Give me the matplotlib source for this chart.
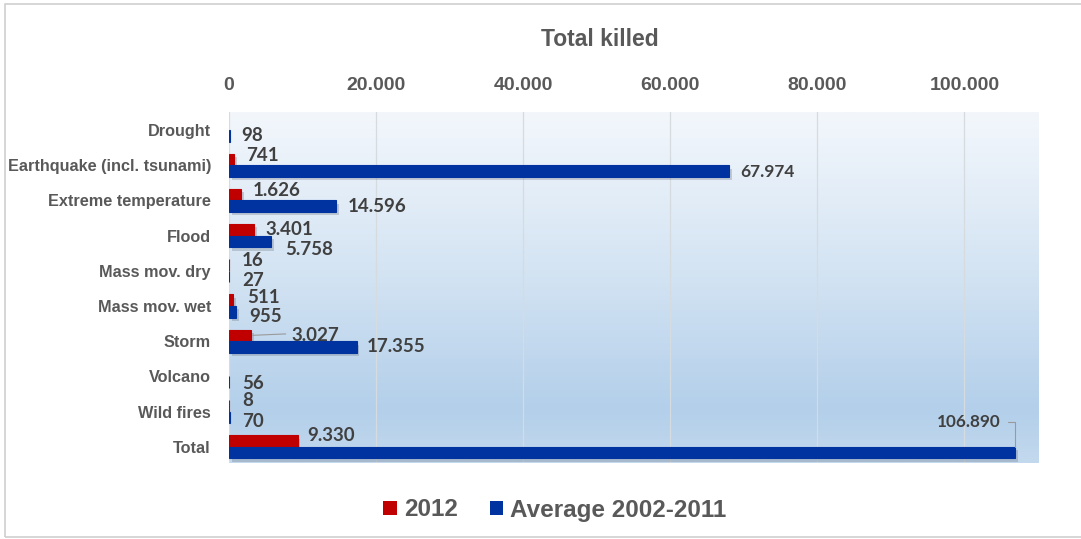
import numpy as np
import matplotlib
matplotlib.use("Agg")
import matplotlib.pyplot as plt
from matplotlib.colors import LinearSegmentedColormap
from matplotlib.patches import Patch, Rectangle
import matplotlib.patheffects as pe

# ---- data -------------------------------------------------------------
categories = ["Drought", "Earthquake (incl. tsunami)", "Extreme temperature",
              "Flood", "Mass mov. dry", "Mass mov. wet", "Storm",
              "Volcano", "Wild fires", "Total"]
killed_2012 = [0, 741, 1626, 3401, 16, 511, 3027, 0, 8, 9330]
killed_avg = [98, 67974, 14596, 5758, 27, 955, 17355, 56, 70, 106890]
series_names = ["2012", "Average 2002-2011"]
x_ticks = [0, 20000, 40000, 60000, 80000, 100000]

# label offsets from the bar end, in pixels (dx right, dy up)
offs_2012 = [(0, 0), (12, 4), (12, 4.5), (11, 0), (13, 4), (14, 3),
             (40, 0), (0, 0), (13, 5), (10, 5)]
offs_avg = [(12, 0), (11, -1), (11, 0), (14, -8.5), (13, -3.5), (13, -5),
            (10, 0), (13, -1), (13, -4), (-14, 25)]

RED = "#C00000"
BLUE = "#0033A0"
GREY_TXT = "#595959"
LBL_TXT = "#404040"


def fmt(v):
    return f"{v:,}".replace(",", ".")


W, H = 1081, 539
fig = plt.figure(figsize=(W / 100, H / 100), dpi=100)
fig.patch.set_facecolor("white")

# outer chart border
fig.add_artist(Rectangle((5 / W, 1 - 537 / H), (W + 10) / W, (537 - 4) / H,
                         transform=fig.transFigure, fill=False,
                         edgecolor="#d0d0d0", lw=1.2))

ax = fig.add_axes([229 / W, 1 - 463 / H, (1038 - 229) / W, (463 - 112) / H])

# gradient plot area
cmap = LinearSegmentedColormap.from_list(
    "bg", [(0.0, "#f3f7fc"), (0.45, "#d4e4f3"), (0.85, "#b3cfea"),
           (1.0, "#c3d9ee")])
grad = np.linspace(0, 1, 256).reshape(-1, 1)
ax.imshow(grad, cmap=cmap, extent=[0, 1, 0, 1], transform=ax.transAxes,
          aspect="auto", origin="upper", zorder=0)

y = np.arange(len(categories))
bh = 0.33
shadow = [pe.SimplePatchShadow(offset=(2, -2.5), shadow_rgbFace="#6a7380",
                               alpha=0.3), pe.Normal()]
bars_r = ax.barh(y - bh / 2, killed_2012, height=bh, color=RED, zorder=3,
                 edgecolor=RED, linewidth=0.8, path_effects=shadow)
bars_b = ax.barh(y + bh / 2, killed_avg, height=bh, color=BLUE, zorder=3,
                 edgecolor=BLUE, linewidth=0.8, path_effects=shadow)
# no visible mark for zero values
for b, v in zip(bars_r, killed_2012):
    if v == 0:
        b.set_visible(False)

ax.set_xlim(0, 110000)
ax.set_ylim(len(categories) - 0.54, -0.51)

for xt in x_ticks:
    ax.axvline(xt, color="#d6dbe0", lw=0.9, zorder=1)

ax.set_xticks(x_ticks)
ax.set_xticklabels([fmt(t) for t in x_ticks])
ax.xaxis.tick_top()
ax.tick_params(axis="x", length=0, pad=13, labelsize=14, labelcolor=GREY_TXT)
for t in ax.get_xticklabels():
    t.set_fontfamily("Liberation Sans")
    t.set_fontweight("bold")

ax.set_yticks(y)
ax.set_yticklabels(categories)
ax.tick_params(axis="y", length=0, pad=13, labelsize=11.7,
               labelcolor=GREY_TXT)
for t in ax.get_yticklabels():
    t.set_fontfamily("Liberation Sans")
    t.set_fontweight("bold")

for s in ax.spines.values():
    s.set_visible(False)

lbl_kw = dict(textcoords="offset pixels", va="center", ha="left",
              fontsize=13.5, fontweight="bold", color=LBL_TXT,
              fontfamily="Lato", zorder=5)

# 2012 labels
for i, v in enumerate(killed_2012):
    if v == 0:
        continue
    dx, dy = offs_2012[i]
    yc = y[i] - bh / 2
    if categories[i] == "Storm":
        ax.annotate(fmt(v), xy=(v, yc), xytext=(dx, dy),
                    arrowprops=dict(arrowstyle="-", color="#9a9a9a", lw=0.8,
                                    shrinkA=2, shrinkB=1,
                                    relpos=(0, 0.6)), **lbl_kw)
    else:
        ax.annotate(fmt(v), xy=(v, yc), xytext=(dx, dy), **lbl_kw)

# average labels
for i, v in enumerate(killed_avg):
    dx, dy = offs_avg[i]
    yc = y[i] + bh / 2
    if categories[i] == "Total":
        kw = dict(lbl_kw)
        kw.update(ha="right", fontsize=12.3)
        ax.annotate(fmt(v), xy=(v, y[i]), xytext=(dx, dy),
                    arrowprops=dict(arrowstyle="-", color="#9a9a9a", lw=0.8,
                                    shrinkA=3, shrinkB=0, relpos=(1, 0.5),
                                    connectionstyle="angle,angleA=0,angleB=90,rad=0"),
                    **kw)
    elif categories[i].startswith("Earthquake"):
        kw = dict(lbl_kw)
        kw.update(fontsize=12.5)
        ax.annotate(fmt(v), xy=(v, yc), xytext=(dx, dy), **kw)
    else:
        ax.annotate(fmt(v), xy=(v, yc), xytext=(dx, dy), **lbl_kw)

fig.text(600 / W, 1 - 40 / H, "Total killed", ha="center", va="center",
         fontsize=16.5, fontweight="bold", color=GREY_TXT,
         fontfamily="Liberation Sans")

handles = [Patch(facecolor=RED, edgecolor="none"),
           Patch(facecolor=BLUE, edgecolor="none")]
leg = fig.legend(handles, series_names, loc="center",
                 bbox_to_anchor=(555 / W, 1 - 510 / H), ncol=2, frameon=False,
                 handlelength=0.55, handleheight=0.55, handletextpad=0.3,
                 columnspacing=1.3,
                 prop=dict(family="Liberation Sans", weight="bold", size=17.5))
for t in leg.get_texts():
    t.set_color(GREY_TXT)

fig.savefig("out.png", dpi=100, facecolor="white")
